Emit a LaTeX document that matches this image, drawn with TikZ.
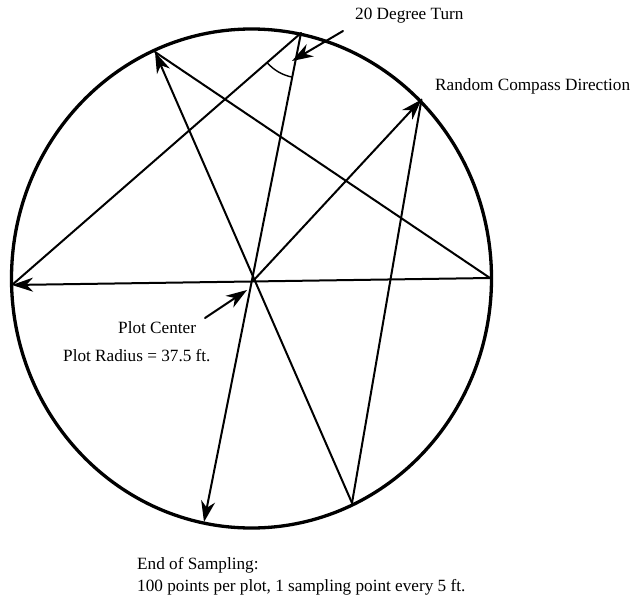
\documentclass[tikz,border=0pt]{standalone}
\usepackage{fontspec}
\setmainfont{Liberation Serif}
\usetikzlibrary{arrows.meta}
\begin{document}
\begin{tikzpicture}[x=1pt,y=-1pt,
  walk/.style={line width=2pt, line cap=round},
  tip/.style={-{Stealth[length=21pt,width=14pt,inset=6.5pt]}},
  lbl/.style={inner sep=0pt, anchor=base west, font=\fontsize{17.2}{20}\selectfont},
]
\useasboundingbox (0,0) rectangle (635,597);
\fill[white] (0,0) rectangle (635,597);
% plot boundary
\draw[line width=3.3pt] (251.5,278.5) ellipse [x radius=240pt, y radius=249.5pt];
% walk points
\coordinate (C) at (253,281);
\coordinate (Q) at (421.5,99.5);
\coordinate (B) at (352,503);
\coordinate (P) at (155,52);
\coordinate (R) at (490,278);
\coordinate (L) at (12,285);
\coordinate (T) at (301,33);
\coordinate (E) at (204,522);
% sampling walk
\draw[walk,tip] (C) -- (Q);
\draw[walk] (Q) -- (B);
\draw[walk,tip] (B) -- (P);
\draw[walk] (P) -- (R);
\draw[walk,tip] (R) -- (L);
\draw[walk] (L) -- (T);
\draw[walk,tip] (T) -- (E);
% turn angle arc
\draw[line width=1.4pt] (T) ++(101.2:45) arc[start angle=101.2, end angle=138.9, radius=45];
% labels
\node[lbl] (turn) at (355,19.5) {20 Degree Turn};
\node[lbl] (rcd) at (435,90) {Random Compass Direction};
\node[lbl] (pc) at (118,333.5) {Plot Center};
\node[lbl] (pr) at (63,361.5) {Plot Radius = 37.5 ft.};
\node[lbl] (eos) at (137,569) {End of Sampling:};
\node[lbl] (pts) at (137,591) {100 points per plot, 1 sampling point every 5 ft.};
% pointers
\coordinate (turnS) at (343,31);
\coordinate (turnT) at (292,61);
\draw[walk,tip] (turnS) -- (turnT);
\coordinate (pcS) at (205,318);
\coordinate (pcT) at (247,290);
\draw[walk,tip] (pcS) -- (pcT);
\end{tikzpicture}
\end{document}
